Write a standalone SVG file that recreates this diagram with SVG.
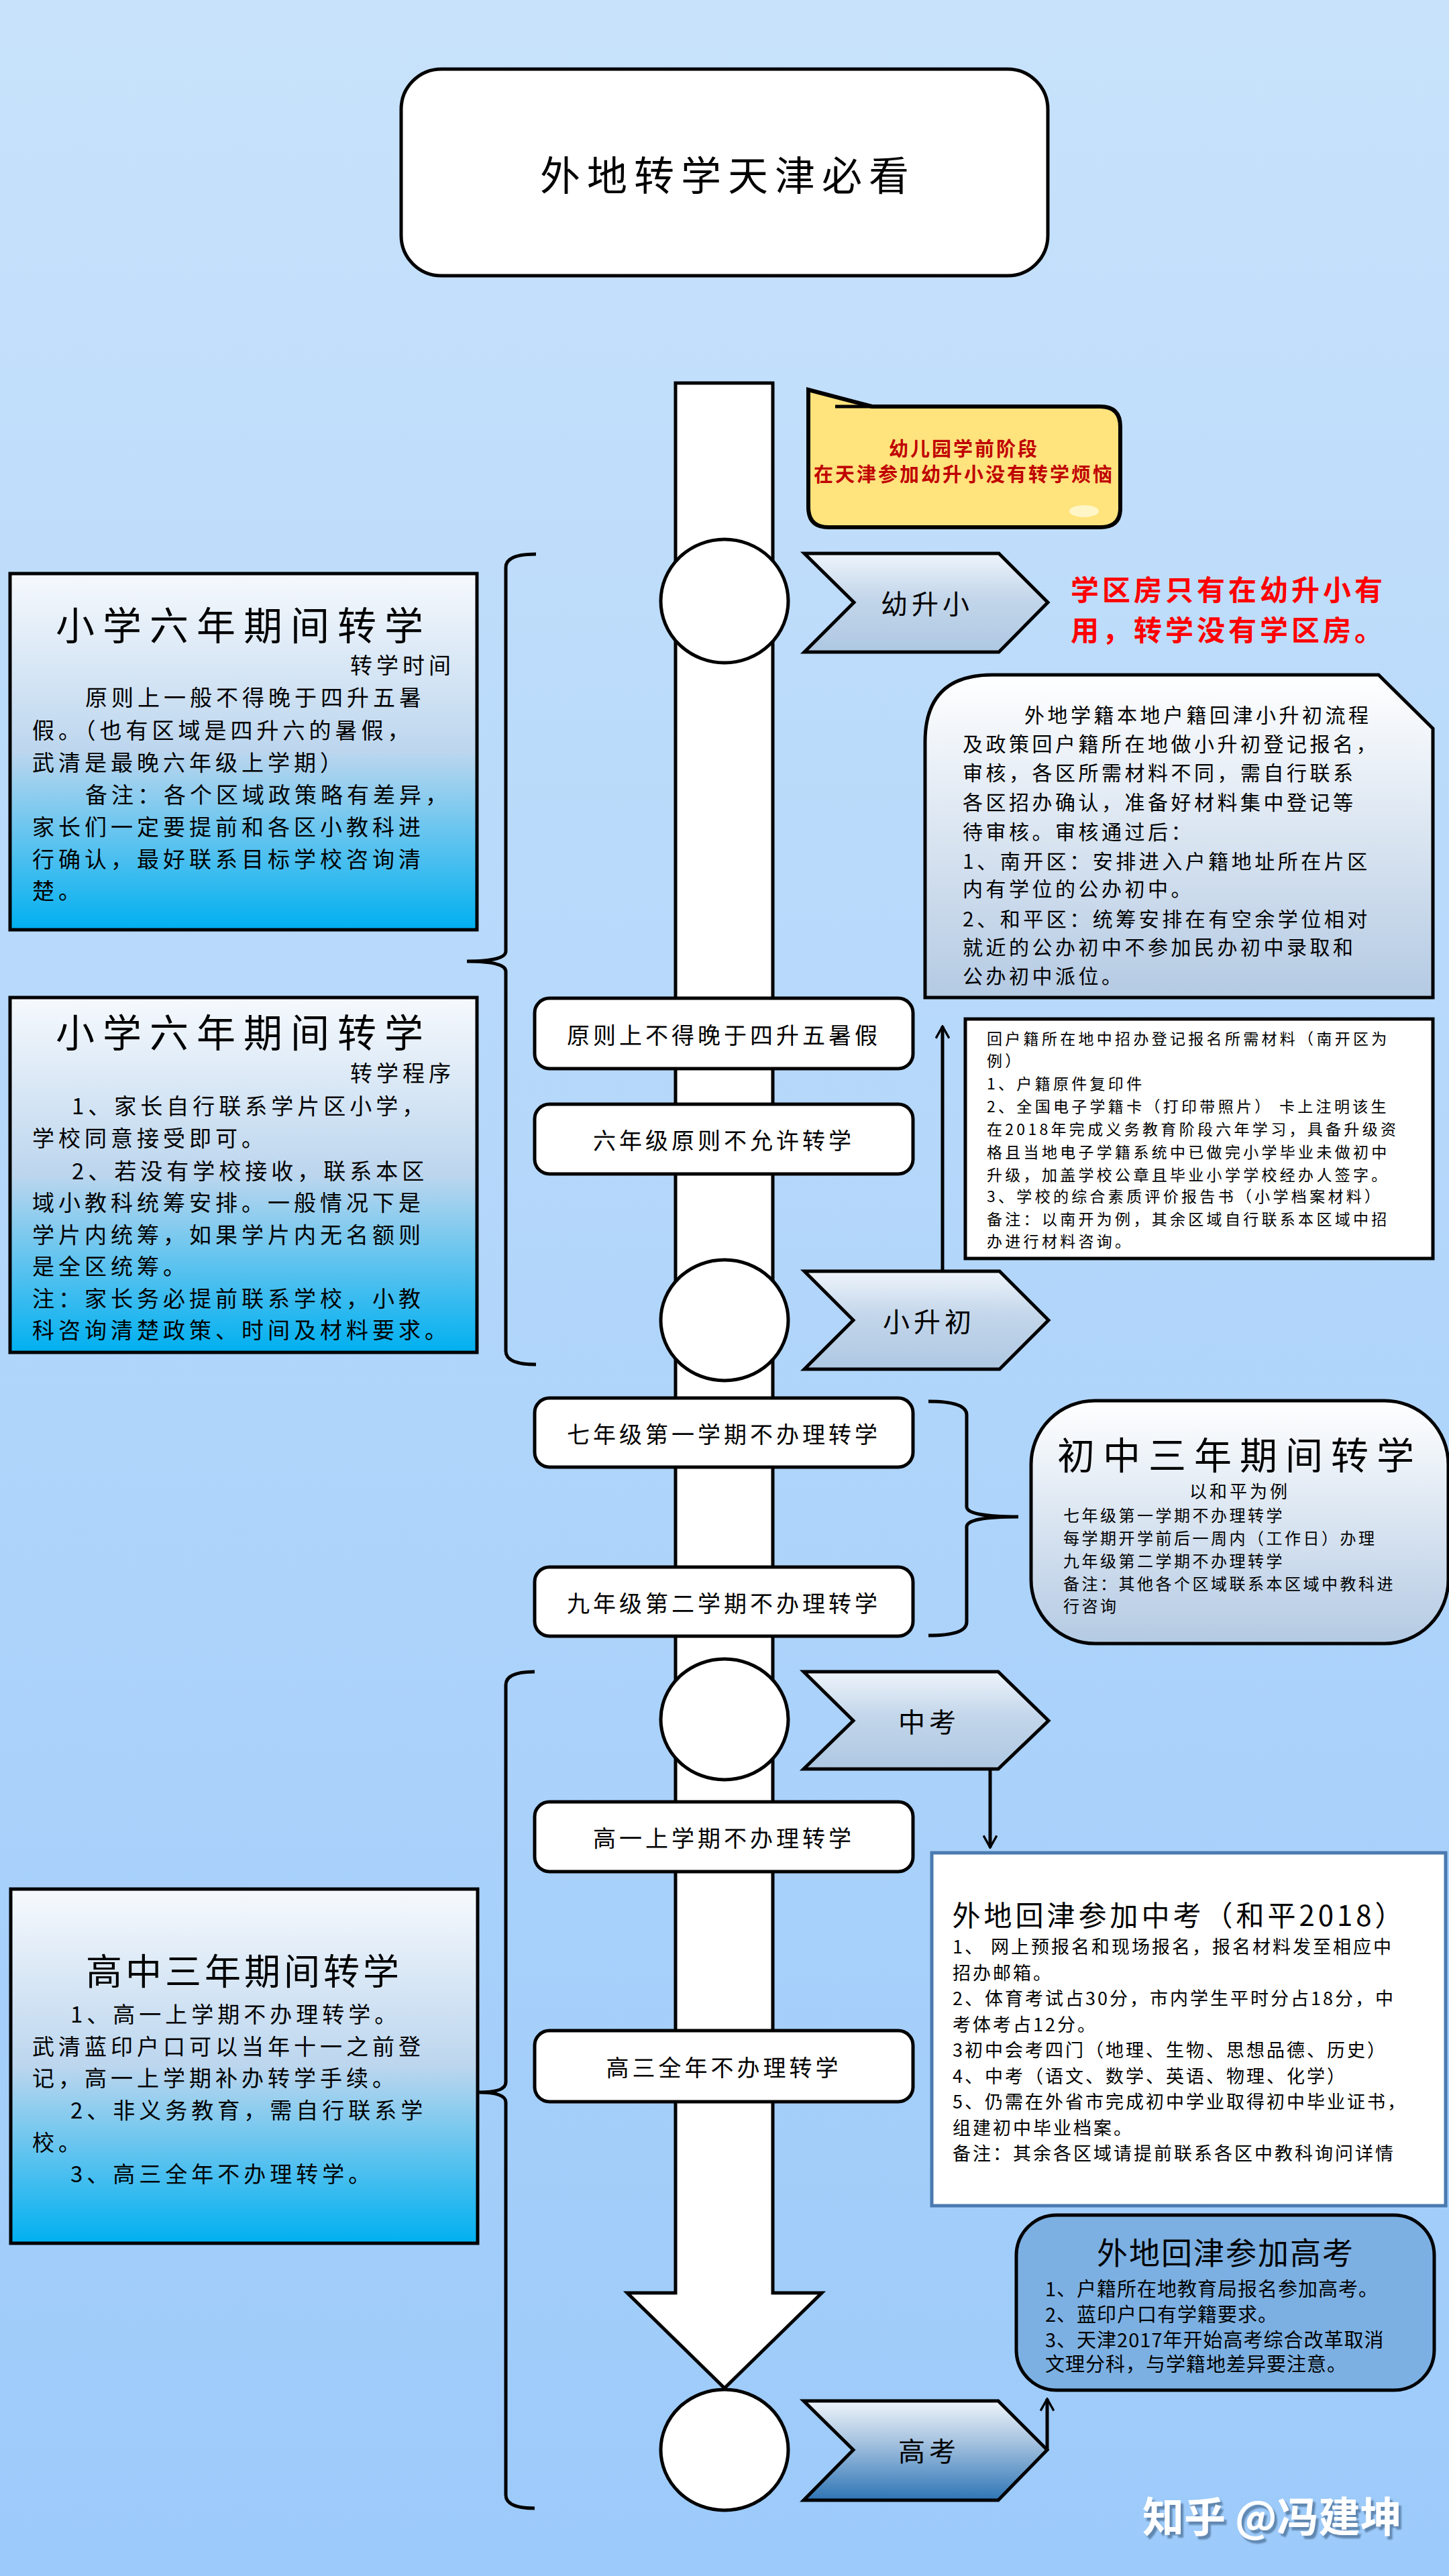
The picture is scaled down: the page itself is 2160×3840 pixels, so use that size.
<svg xmlns="http://www.w3.org/2000/svg" width="2160" height="3840" viewBox="0 0 2160 3840">
<defs>
<linearGradient id="bg" x1="0" y1="0" x2="0" y2="1"><stop offset="0" stop-color="#c8e2fb"/><stop offset="1" stop-color="#9ccafa"/></linearGradient>
<linearGradient id="cyan" x1="0" y1="0" x2="0" y2="1"><stop offset="0" stop-color="#f6f9fd"/><stop offset="0.5" stop-color="#bcd6ee"/><stop offset="1" stop-color="#00b0f0"/></linearGradient>
<linearGradient id="hex" x1="0" y1="0" x2="0" y2="1"><stop offset="0" stop-color="#eef4fb"/><stop offset="0.45" stop-color="#c3d6ea"/><stop offset="1" stop-color="#aec8e2"/></linearGradient>
<linearGradient id="hexd" x1="0" y1="0" x2="0" y2="1"><stop offset="0" stop-color="#eef4fb"/><stop offset="0.4" stop-color="#a8c4e0"/><stop offset="1" stop-color="#2e75b6"/></linearGradient>
<linearGradient id="soft" x1="0" y1="0" x2="0" y2="1"><stop offset="0" stop-color="#ffffff"/><stop offset="1" stop-color="#b4cae3"/></linearGradient>
<marker id="ah" viewBox="0 0 20 20" refX="18" refY="10" markerWidth="22" markerHeight="22" markerUnits="userSpaceOnUse" orient="auto"><path d="M2,1 L18,10 L2,19" fill="none" stroke="#000" stroke-width="3"/></marker>
<filter id="sh" x="-10%" y="-10%" width="130%" height="140%"><feDropShadow dx="4" dy="5" stdDeviation="1" flood-color="#5a7fa8" flood-opacity="0.9"/></filter>
</defs>
<style>
text{font-family:"Noto Sans CJK SC","Noto Sans",sans-serif;fill:#000;dominant-baseline:central}
.ln{fill:none;stroke:#000;stroke-width:5}
.box{fill:#fff;stroke:#000;stroke-width:5}
.t34{font-size:33px;letter-spacing:6px}
.tt{font-size:58px;letter-spacing:12px;text-anchor:middle}
.sm{font-size:34px;letter-spacing:5px;text-anchor:middle}
.r{fill:#ff0000;font-size:42px;font-weight:bold;letter-spacing:5px}
.y{fill:#c00000;font-size:29px;font-weight:bold;letter-spacing:3px;text-anchor:middle}
.t30{font-size:30px;letter-spacing:4.5px}
.t23{font-size:23px;letter-spacing:4.3px}
.t24{font-size:24px;letter-spacing:3.5px}
.t27{font-size:27px;letter-spacing:3px}
.t29{font-size:29px;letter-spacing:1px}
</style>
<rect width="2160" height="3840" fill="url(#bg)"/>

<g id="title"><rect x="598" y="103" width="964" height="308" rx="60" class="box"/><text x="1085" y="257" font-size="60" letter-spacing="10" text-anchor="middle">外地转学天津必看</text></g>

<g id="timeline">
<path d="M1007,571 L1152,571 L1152,3418 L1225,3418 L1080,3560 L935,3418 L1007,3418 Z" class="box"/>
</g>

<g id="connectors">
<path class="ln" d="M799,826 Q754,826 754,846 L754,1418 Q754,1433 696,1433 Q754,1433 754,1448 L754,2014 Q754,2034 799,2034"/>
<path class="ln" d="M797,2492 Q754,2492 754,2512 L754,3104 Q754,3119 714,3119 Q754,3119 754,3134 L754,3719 Q754,3739 797,3739"/>
<path class="ln" d="M1384,2089 Q1441,2089 1441,2109 L1441,2246 Q1441,2261 1518,2261 Q1441,2261 1441,2276 L1441,2418 Q1441,2438 1384,2438"/>
<path class="ln" d="M1405,1895 L1405,1530" marker-end="url(#ah)"/>
<path class="ln" d="M1476,2637 L1476,2754" marker-end="url(#ah)"/>
<path class="ln" d="M1561,3652 L1561,3576" marker-end="url(#ah)"/>
</g>

<g id="circles">
<ellipse cx="1080" cy="896" rx="95" ry="92" class="box"/>
<ellipse cx="1080" cy="1968" rx="95" ry="90" class="box"/>
<ellipse cx="1080" cy="2563" rx="95" ry="90" class="box"/>
<ellipse cx="1080" cy="3652" rx="95" ry="90" class="box"/>
</g>

<g id="stage-boxes">
<rect x="797" y="1488" width="564" height="105" rx="22" class="box"/><text x="1079" y="1541" class="sm">原则上不得晚于四升五暑假</text>
<rect x="797" y="1646" width="564" height="104" rx="22" class="box"/><text x="1079" y="1698" class="sm">六年级原则不允许转学</text>
<rect x="797" y="2084" width="564" height="103" rx="22" class="box"/><text x="1079" y="2136" class="sm">七年级第一学期不办理转学</text>
<rect x="797" y="2336" width="564" height="103" rx="22" class="box"/><text x="1079" y="2388" class="sm">九年级第二学期不办理转学</text>
<rect x="797" y="2686" width="564" height="104" rx="22" class="box"/><text x="1079" y="2738" class="sm">高一上学期不办理转学</text>
<rect x="797" y="3027" width="564" height="106" rx="22" class="box"/><text x="1079" y="3080" class="sm">高三全年不办理转学</text>
</g>

<g id="hex-youshengxiao"><path d="M1199,825 L1489,825 L1562,898 L1489,972 L1199,972 L1273,898 Z" fill="url(#hex)" stroke="#000" stroke-width="5"/><text x="1382" y="898" font-size="40" letter-spacing="6" text-anchor="middle">幼升小</text></g>
<g id="hex-xiaoshengchu"><path d="M1199,1895 L1490,1895 L1563,1968 L1490,2041 L1199,2041 L1272,1968 Z" fill="url(#hex)" stroke="#000" stroke-width="5"/><text x="1385" y="1968" font-size="40" letter-spacing="6" text-anchor="middle">小升初</text></g>
<g id="hex-zhongkao"><path d="M1198,2492 L1488,2492 L1563,2565 L1488,2637 L1198,2637 L1272,2565 Z" fill="url(#hex)" stroke="#000" stroke-width="5"/><text x="1385" y="2565" font-size="40" letter-spacing="6" text-anchor="middle">中考</text></g>
<g id="hex-gaokao"><path d="M1198,3579 L1488,3579 L1561,3652 L1488,3727 L1198,3727 L1272,3652 Z" fill="url(#hexd)" stroke="#000" stroke-width="5"/><text x="1385" y="3652" font-size="40" letter-spacing="6" text-anchor="middle">高考</text></g>

<g id="kindergarten-note">
<path d="M1205,581 L1300,606 L1640,606 Q1670,606 1670,636 L1670,758 Q1670,786 1640,786 L1235,786 Q1205,786 1205,756 Z" fill="#ffe37d" stroke="#000" stroke-width="6"/>
<path d="M1245,606 L1300,606" class="ln"/>
<ellipse cx="1616" cy="762" rx="22" ry="9" fill="#fff6c8"/>
<text x="1437" y="667" class="y">幼儿园学前阶段</text>
<text x="1437" y="705" class="y">在天津参加幼升小没有转学烦恼</text>
</g>

<g id="xuequfang-note">
<text x="1596" y="876" class="r">学区房只有在幼升小有</text>
<text x="1596" y="936" class="r">用，转学没有学区房。</text>
</g>

<g id="primary-time">
<rect x="15" y="855" width="696" height="531" fill="url(#cyan)" stroke="#000" stroke-width="5"/>
<text x="363" y="929" class="tt">小学六年期间转学</text>
<text x="678" y="990" font-size="33" letter-spacing="6" text-anchor="end">转学时间</text>
<g class="t34">
<text x="127" y="1038">原则上一般不得晚于四升五暑</text>
<text x="48" y="1087">假。（也有区域是四升六的暑假，</text>
<text x="48" y="1135">武清是最晚六年级上学期）</text>
<text x="127" y="1183">备注：各个区域政策略有差异，</text>
<text x="48" y="1231">家长们一定要提前和各区小教科进</text>
<text x="48" y="1279">行确认，最好联系目标学校咨询清</text>
<text x="48" y="1326">楚。</text>
</g>
</g>

<g id="primary-procedure">
<rect x="15" y="1487" width="696" height="529" fill="url(#cyan)" stroke="#000" stroke-width="5"/>
<text x="363" y="1536" class="tt">小学六年期间转学</text>
<text x="678" y="1598" font-size="33" letter-spacing="6" text-anchor="end">转学程序</text>
<g class="t34">
<text x="107" y="1647">1、家长自行联系学片区小学，</text>
<text x="48" y="1695">学校同意接受即可。</text>
<text x="107" y="1744">2、若没有学校接收，联系本区</text>
<text x="48" y="1791">域小教科统筹安排。一般情况下是</text>
<text x="48" y="1839">学片内统筹，如果学片内无名额则</text>
<text x="48" y="1886">是全区统筹。</text>
<text x="48" y="1934">注：家长务必提前联系学校，小教</text>
<text x="48" y="1981">科咨询清楚政策、时间及材料要求。</text>
</g>
</g>

<g id="xiaoshengchu-info">
<path d="M1479,1006 L2055,1006 L2136,1086 L2136,1487 L1379,1487 L1379,1106 Q1379,1006 1479,1006 Z" fill="url(#soft)" stroke="#000" stroke-width="5"/>
<g class="t30">
<text x="1527" y="1064">外地学籍本地户籍回津小升初流程</text>
<text x="1435" y="1107">及政策回户籍所在地做小升初登记报名，</text>
<text x="1435" y="1150">审核，各区所需材料不同，需自行联系</text>
<text x="1435" y="1194">各区招办确认，准备好材料集中登记等</text>
<text x="1435" y="1238">待审核。审核通过后：</text>
<text x="1435" y="1282">1、南开区：安排进入户籍地址所在片区</text>
<text x="1435" y="1323">内有学位的公办初中。</text>
<text x="1435" y="1368">2、和平区：统筹安排在有空余学位相对</text>
<text x="1435" y="1410">就近的公办初中不参加民办初中录取和</text>
<text x="1435" y="1453">公办初中派位。</text>
</g>
</g>

<g id="materials">
<rect x="1439" y="1519" width="697" height="357" fill="#fff" stroke="#000" stroke-width="5"/>
<g class="t23">
<text x="1471" y="1547">回户籍所在地中招办登记报名所需材料（南开区为</text>
<text x="1471" y="1580">例）</text>
<text x="1471" y="1614">1、户籍原件复印件</text>
<text x="1471" y="1648">2、全国电子学籍卡（打印带照片） 卡上注明该生</text>
<text x="1471" y="1682">在2018年完成义务教育阶段六年学习，具备升级资</text>
<text x="1471" y="1716">格且当地电子学籍系统中已做完小学毕业未做初中</text>
<text x="1471" y="1750">升级，加盖学校公章且毕业小学学校经办人签字。</text>
<text x="1471" y="1782">3、学校的综合素质评价报告书（小学档案材料）</text>
<text x="1471" y="1816">备注：以南开为例，其余区域自行联系本区域中招</text>
<text x="1471" y="1849">办进行材料咨询。</text>
</g>
</g>

<g id="junior">
<rect x="1537" y="2088" width="622" height="362" rx="95" fill="url(#soft)" stroke="#000" stroke-width="5"/>
<text x="1848" y="2165" font-size="56" letter-spacing="12" text-anchor="middle">初中三年期间转学</text>
<text x="1848" y="2221" font-size="26" letter-spacing="4" text-anchor="middle">以和平为例</text>
<g class="t24">
<text x="1585" y="2257">七年级第一学期不办理转学</text>
<text x="1585" y="2291">每学期开学前后一周内（工作日）办理</text>
<text x="1585" y="2325">九年级第二学期不办理转学</text>
<text x="1585" y="2359">备注：其他各个区域联系本区域中教科进</text>
<text x="1585" y="2392">行咨询</text>
</g>
</g>

<g id="zhongkao-info">
<rect x="1389" y="2762" width="766" height="526" fill="#fff" stroke="#4a7ab0" stroke-width="5"/>
<text x="1758" y="2852" font-size="42" letter-spacing="5" text-anchor="middle">外地回津参加中考（和平2018）</text>
<g class="t27">
<text x="1420" y="2900">1、 网上预报名和现场报名，报名材料发至相应中</text>
<text x="1420" y="2939">招办邮箱。</text>
<text x="1420" y="2977">2、体育考试占30分，市内学生平时分占18分，中</text>
<text x="1420" y="3016">考体考占12分。</text>
<text x="1420" y="3054">3初中会考四门（地理、生物、思想品德、历史）</text>
<text x="1420" y="3093">4、中考（语文、数学、英语、物理、化学）</text>
<text x="1420" y="3131">5、仍需在外省市完成初中学业取得初中毕业证书，</text>
<text x="1420" y="3170">组建初中毕业档案。</text>
<text x="1420" y="3208">备注：其余各区域请提前联系各区中教科询问详情</text>
</g>
</g>

<g id="senior">
<rect x="16" y="2816" width="696" height="528" fill="url(#cyan)" stroke="#000" stroke-width="5"/>
<text x="364" y="2935" font-size="54" letter-spacing="5" text-anchor="middle">高中三年期间转学</text>
<g class="t34">
<text x="105" y="3001">1、高一上学期不办理转学。</text>
<text x="48" y="3049">武清蓝印户口可以当年十一之前登</text>
<text x="48" y="3096">记，高一上学期补办转学手续。</text>
<text x="105" y="3144">2、非义务教育，需自行联系学</text>
<text x="48" y="3192">校。</text>
<text x="105" y="3239">3、高三全年不办理转学。</text>
</g>
</g>

<g id="gaokao-info">
<rect x="1515" y="3302" width="623" height="261" rx="60" fill="#7cb0e2" stroke="#000" stroke-width="5"/>
<text x="1827" y="3355" font-size="46" letter-spacing="2" text-anchor="middle">外地回津参加高考</text>
<g class="t29">
<text x="1558" y="3410">1、户籍所在地教育局报名参加高考。</text>
<text x="1558" y="3448">2、蓝印户口有学籍要求。</text>
<text x="1558" y="3486">3、天津2017年开始高考综合改革取消</text>
<text x="1558" y="3522">文理分科，与学籍地差异要注意。</text>
</g>
</g>

<text x="1703" y="3748" font-size="62" font-weight="bold" filter="url(#sh)" style="fill:#ffffff">知乎 @冯建坤</text>
</svg>
